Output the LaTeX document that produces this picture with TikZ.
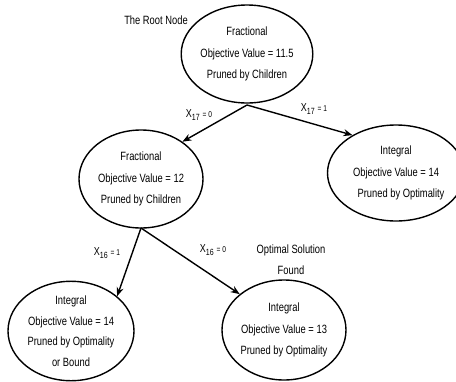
\documentclass[tikz,border=0pt]{standalone}
\usepackage{fontspec}
\setmainfont[FakeStretch=0.78]{Liberation Sans}
\usetikzlibrary{shapes.geometric,arrows.meta}
\begin{document}
\begin{tikzpicture}[x=1pt,y=-1pt,
  bb/.style={ellipse,draw,line width=1.4pt,minimum width=124pt,minimum height=98pt,inner sep=0pt,align=center,font=\fontsize{12}{21.5}\selectfont},
  edge/.style={line width=1.4pt,-{Stealth[length=9pt,width=7pt]}},
  lbl/.style={inner sep=0pt,font=\fontsize{12}{21}\selectfont},
  elbl/.style={inner sep=0pt}]
\useasboundingbox (0,0) rectangle (456,381);
\node[bb] (root) at (247,54) {Fractional\\Objective Value = 11.5\\Pruned by Children};
\node[bb] (mid) at (141,179) {Fractional\\Objective Value = 12\\Pruned by Children};
\node[bb,minimum width=120pt,minimum height=96pt] (right) at (396,173) {Integral\\Objective Value = 14\\\hspace*{10pt}Pruned by Optimality};
\node[bb,minimum width=126pt,minimum height=94pt,font=\fontsize{12}{20.5}\selectfont] (bl) at (71,331) {Integral\\Objective Value = 14\\Pruned by Optimality\\or Bound};
\node[bb,minimum width=124pt,minimum height=100pt] (bm) at (284,330) {Integral\\Objective Value = 13\\Pruned by Optimality};
\node[lbl] (rootlbl) at (156,20) {The Root Node};
\node[lbl,align=center] (opt) at (291,260) {Optimal Solution\\Found};
\coordinate (rs) at (247,105);
\coordinate (ms) at (141,228);
\draw[edge] (rs) -- (mid.42);
\draw[edge] (rs) -- (right.139);
\draw[edge] (ms) -- (bl.37);
\draw[edge] (ms) -- (bm.141);
\node[elbl] (l1) at (199,115) {{\fontsize{11.5}{11}\selectfont X}\raisebox{-2.5pt}{\fontsize{9}{9}\selectfont 17}\hspace{3pt}{\fontsize{8.5}{9}\selectfont = 0}};
\node[elbl] (l2) at (314,109) {{\fontsize{11.5}{11}\selectfont X}\raisebox{-2.5pt}{\fontsize{9}{9}\selectfont 17}\hspace{3pt}{\fontsize{8.5}{9}\selectfont = 1}};
\node[elbl] (l3) at (107,253) {{\fontsize{11.5}{11}\selectfont X}\raisebox{-2.5pt}{\fontsize{9}{9}\selectfont 16}\hspace{3pt}{\fontsize{8.5}{9}\selectfont = 1}};
\node[elbl] (l4) at (213,250) {{\fontsize{11.5}{11}\selectfont X}\raisebox{-2.5pt}{\fontsize{9}{9}\selectfont 16}\hspace{3pt}{\fontsize{8.5}{9}\selectfont = 0}};
\end{tikzpicture}
\end{document}
